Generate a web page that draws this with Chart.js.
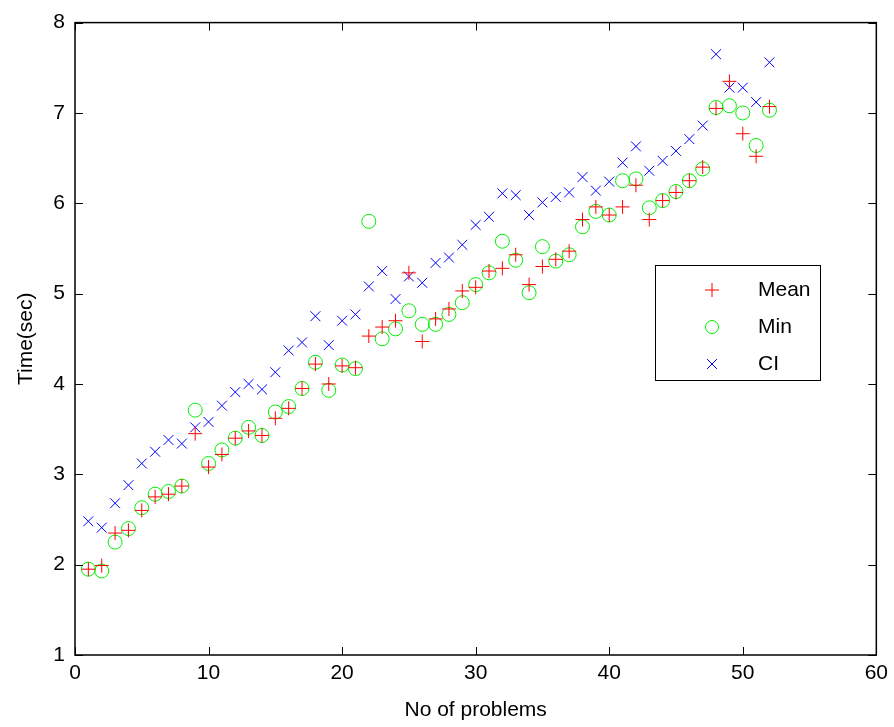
<!DOCTYPE html>
<html>
<head>
<meta charset="utf-8">
<script src="https://cdn.jsdelivr.net/npm/chart.js@4"></script>
<style>
  html, body { margin: 0; padding: 0; background: #fff; }
  #wrap { width: 894px; height: 727px; }
</style>
</head>
<body>
<div id="wrap"><canvas id="myChart"></canvas></div>
<script>
const problems = [];
for (let i = 1; i <= 52; i++) problems.push(i);

const meanVals = [1.95, 1.99, 2.35, 2.38, 2.6, 2.75, 2.78, 2.87, 3.45, 3.08,
  3.22, 3.4, 3.48, 3.43, 3.62, 3.73, 3.95, 4.22, 4.0, 4.2,
  4.18, 4.53, 4.63, 4.7, 5.23, 4.47, 4.72, 4.83, 5.03, 5.07,
  5.25, 5.28, 5.43, 5.1, 5.3, 5.38, 5.47, 5.82, 5.96, 5.87,
  5.96, 6.2, 5.82, 6.03, 6.12, 6.25, 6.4, 7.05, 7.35, 6.77,
  6.52, 7.07];

const minVals = [1.95, 1.93, 2.25, 2.4, 2.63, 2.78, 2.81, 2.87, 3.71, 3.12,
  3.27, 3.4, 3.52, 3.43, 3.69, 3.75, 3.95, 4.24, 3.93, 4.21,
  4.17, 5.8, 4.5, 4.61, 4.81, 4.66, 4.66, 4.77, 4.9, 5.1,
  5.23, 5.58, 5.37, 5.01, 5.52, 5.36, 5.43, 5.74, 5.91, 5.87,
  6.25, 6.27, 5.95, 6.03, 6.13, 6.25, 6.38, 7.06, 7.08, 7.0,
  6.64, 7.03];

const ciVals = [2.48, 2.41, 2.68, 2.88, 3.12, 3.25, 3.38, 3.34, 3.52, 3.58,
  3.76, 3.91, 4.0, 3.94, 4.13, 4.37, 4.46, 4.75, 4.43, 4.7,
  4.77, 5.08, 5.25, 4.94, 5.19, 5.12, 5.34, 5.4, 5.54, 5.76,
  5.85, 6.11, 6.09, 5.87, 6.01, 6.07, 6.12, 6.29, 6.14, 6.24,
  6.45, 6.63, 6.36, 6.47, 6.58, 6.71, 6.86, 7.65, 7.28, 7.28,
  7.12, 7.56];

const seriesNames = ["Mean", "Min", "CI"];
const xTicks = [0, 10, 20, 30, 40, 50, 60];
const yTicks = [1, 2, 3, 4, 5, 6, 7, 8];

const pts = vals => vals.map((v, i) => ({ x: problems[i], y: v }));
const FONT = "'Liberation Sans', Arial, sans-serif";

// MATLAB style inward ticks on all four sides + legend box
const boxTicks = {
  id: "boxTicks",
  afterDraw(chart) {
    const { ctx, chartArea: a, scales } = chart;
    ctx.save();
    ctx.strokeStyle = "#000";
    ctx.lineWidth = 1;
    ctx.beginPath();
    xTicks.forEach(t => {
      const px = Math.round(scales.x.getPixelForValue(t)) + 0.5;
      ctx.moveTo(px, a.bottom); ctx.lineTo(px, a.bottom - 8);
      ctx.moveTo(px, a.top); ctx.lineTo(px, a.top + 8);
    });
    yTicks.forEach(t => {
      const py = Math.round(scales.y.getPixelForValue(t)) + 0.5;
      ctx.moveTo(a.left, py); ctx.lineTo(a.left + 8, py);
      ctx.moveTo(a.right, py); ctx.lineTo(a.right - 8, py);
    });
    ctx.stroke();
    ctx.lineWidth = 1.5;
    ctx.strokeRect(a.left, a.top, a.right - a.left, a.bottom - a.top);

    const lx = 655, ly = 265, lw = 165, lh = 115;
    ctx.fillStyle = "#fff";
    ctx.fillRect(lx, ly, lw, lh);
    ctx.lineWidth = 1;
    ctx.strokeStyle = "#000";
    ctx.strokeRect(lx + 0.5, ly + 0.5, lw, lh);
    ctx.font = "21px " + FONT;
    ctx.textBaseline = "middle";
    chart.data.datasets.forEach((ds, i) => {
      const cy = ly + 25 + i * 37;
      const cx = lx + 57;
      ctx.strokeStyle = ds.borderColor;
      ctx.lineWidth = 1;
      ctx.beginPath();
      if (ds.pointStyle === "circle") {
        ctx.arc(cx, cy, 6.5, 0, Math.PI * 2);
      } else if (ds.pointStyle === "cross") {
        ctx.moveTo(cx - 7, cy); ctx.lineTo(cx + 7, cy);
        ctx.moveTo(cx, cy - 7); ctx.lineTo(cx, cy + 7);
      } else {
        ctx.moveTo(cx - 5, cy - 5); ctx.lineTo(cx + 5, cy + 5);
        ctx.moveTo(cx + 5, cy - 5); ctx.lineTo(cx - 5, cy + 5);
      }
      ctx.stroke();
      ctx.fillStyle = "#000";
      ctx.fillText(ds.label, lx + 103, cy);
    });
    ctx.restore();
  }
};

new Chart(document.getElementById("myChart"), {
  type: "scatter",
  data: {
    datasets: [
      {
        label: seriesNames[0],
        data: pts(meanVals),
        pointStyle: "cross",
        pointRadius: 7,
        borderColor: "#ff0000",
        backgroundColor: "#ff0000",
        borderWidth: 1
      },
      {
        label: seriesNames[1],
        data: pts(minVals),
        pointStyle: "circle",
        pointRadius: 7,
        borderColor: "#00ee00",
        backgroundColor: "rgba(0,0,0,0)",
        borderWidth: 1
      },
      {
        label: seriesNames[2],
        data: pts(ciVals),
        pointStyle: "crossRot",
        pointRadius: 7,
        borderColor: "#0000ff",
        backgroundColor: "#0000ff",
        borderWidth: 1
      }
    ]
  },
  options: {
    responsive: true,
    maintainAspectRatio: false,
    animation: false,
    layout: { padding: { top: 18, right: 16, left: 0, bottom: 0 } },
    plugins: {
      legend: { display: false },
      tooltip: { enabled: false }
    },
    scales: {
      x: {
        type: "linear",
        min: 0,
        max: 60,
        afterBuildTicks: s => { s.ticks = xTicks.map(v => ({ value: v })); },
        afterFit: s => { s.height = 72; },
        grid: { display: false, drawTicks: false },
        border: { display: false },
        ticks: { color: "#000", font: { family: FONT, size: 21 }, padding: 6, maxRotation: 0 },
        title: { display: true, text: "No of problems", color: "#000", font: { family: FONT, size: 21 }, padding: { top: 4 } }
      },
      y: {
        type: "linear",
        min: 1,
        max: 8,
        afterBuildTicks: s => { s.ticks = yTicks.map(v => ({ value: v })); },
        afterFit: s => { s.width = 75; },
        grid: { display: false, drawTicks: false },
        border: { display: false },
        ticks: { color: "#000", font: { family: FONT, size: 21 }, padding: 10 },
        title: { display: true, text: "Time(sec)", color: "#000", font: { family: FONT, size: 21 }, padding: { top: 14, bottom: 4 } }
      }
    }
  },
  plugins: [boxTicks]
});
</script>
</body>
</html>
